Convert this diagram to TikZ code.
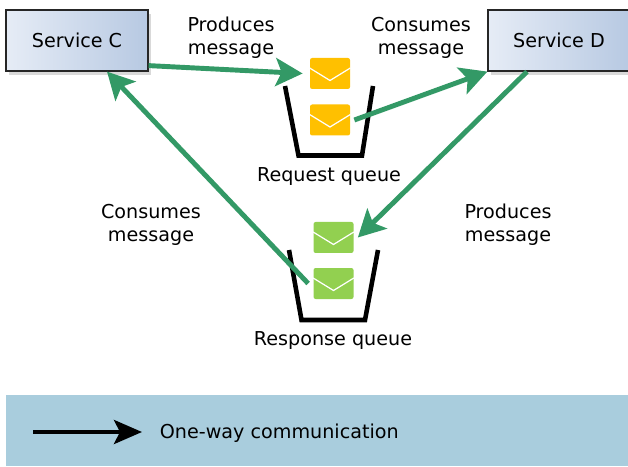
\documentclass[tikz,border=0pt]{standalone}
\usepackage{fontspec}
\setmainfont{DejaVu Sans}
\usetikzlibrary{shadows,arrows.meta}
\definecolor{flowgreen}{HTML}{339966}
\definecolor{msgyellow}{HTML}{FFC000}
\definecolor{msggreen}{HTML}{92D050}
\definecolor{legendblue}{HTML}{A9CDDD}
\definecolor{boxleft}{HTML}{E6ECF6}
\definecolor{boxright}{HTML}{B7C9E2}
\tikzset{
    service/.style={draw=black!85, line width=0.7pt, minimum width=2.84cm, minimum height=1.22cm,
        left color=boxleft, right color=boxright,
        drop shadow={shadow xshift=0.06cm, shadow yshift=-0.08cm, opacity=0.3}},
    msg/.style={rounded corners=1.2pt, minimum width=0.8cm, minimum height=0.62cm, inner sep=0pt},
    flap/.style={draw=white, line width=0.7pt},
    bucket/.style={draw=black, line width=2.6pt, line join=miter},
    flow/.style={draw=flowgreen, line width=2.8pt, -{Stealth[length=0.54cm, width=0.56cm, inset=0.12cm]}},
    label/.style={align=center, font=\fontsize{10.9}{13}\selectfont, inner sep=0pt}
}
\begin{document}
\begin{tikzpicture}
    \useasboundingbox (0,0) rectangle (12.56,9.32);
    % Legend band
    \fill[legendblue] (0.12,0) rectangle (12.56,1.42);
    \coordinate (legfrom) at (0.66,0.68);
    \coordinate (legto) at (2.84,0.68);
    \draw[black, line width=2.4pt, -{Stealth[length=0.56cm, width=0.48cm, inset=0.12cm]}] (legfrom) -- (legto);
    \node [label, anchor=west] (legtext) at (3.19,0.65) {One-way communication};

    % Services
    \node [service] (svcC) at (1.54,8.51) {};
    \node [label] (svcCtext) at (svcC.center) {Service C};
    \node [service] (svcD) at (11.18,8.51) {};
    \node [label] (svcDtext) at (svcD.center) {Service D};

    % Queues
    \draw[bucket] (5.70,7.60) -- (5.97,6.21) -- (7.24,6.21) -- (7.46,7.60);
    \draw[bucket] (5.78,4.32) -- (6.03,2.92) -- (7.30,2.92) -- (7.56,4.32);
    \node [label] (reqlabel) at (6.58,5.78) {Request queue};
    \node [label] (reslabel) at (6.66,2.50) {Response queue};

    % Messages
    \node [msg, fill=msgyellow] (reqtop) at (6.60,7.85) {};
    \node [msg, fill=msgyellow] (reqbot) at (6.60,6.92) {};
    \node [msg, fill=msggreen] (restop) at (6.67,4.57) {};
    \node [msg, fill=msggreen] (resbot) at (6.67,3.65) {};
    \foreach \m in {reqtop, reqbot, restop, resbot}
        \draw[flap] ([yshift=0.11cm]\m.west) -- ([yshift=-0.14cm]\m.center) -- ([yshift=0.11cm]\m.east);

    % Flows
    \draw[flow] ([yshift=0.12cm]svcC.south east) -- ([xshift=-0.14cm]reqtop.west);
    \draw[flow] ([xshift=0.08cm]reqbot.east) -- (svcD.south west);
    \draw[flow] ([xshift=-0.64cm]svcD.south) -- ([xshift=0.08cm]restop.east);
    \draw[flow] ([xshift=-0.10cm]resbot.west) -- ([xshift=0.60cm]svcC.south);

    % Flow labels
    \node [label] (prodC) at (4.62,8.56) {Produces\\message};
    \node [label] (consD) at (8.42,8.56) {Consumes\\message};
    \node [label] (consC) at (3.02,4.82) {Consumes\\message};
    \node [label] (prodD) at (10.16,4.82) {Produces\\message};
\end{tikzpicture}
\end{document}
